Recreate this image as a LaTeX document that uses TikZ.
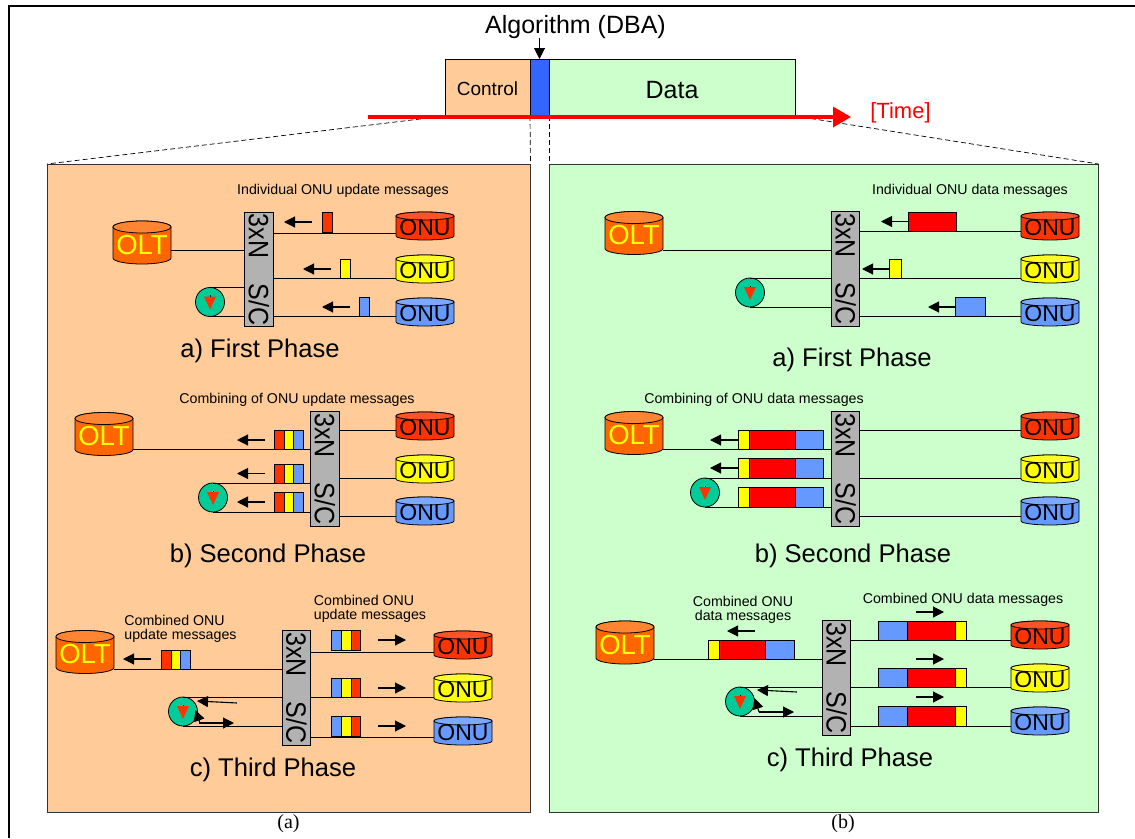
\documentclass[tikz,border=0pt]{standalone}
\usepackage{graphicx}
\usepackage{fontspec}
\setmainfont{Liberation Sans}
\newfontfamily\capfont{Liberation Serif}
\definecolor{ctrlbg}{HTML}{FFCC99}
\definecolor{databg}{HTML}{CCFFCC}
\definecolor{dbablue}{HTML}{3366FF}
\definecolor{oltbody}{HTML}{FF6600}
\definecolor{olttop}{HTML}{FF8533}
\definecolor{mred}{HTML}{FF3300}
\definecolor{mredd}{HTML}{FF0000}
\definecolor{myel}{HTML}{FFFF00}
\definecolor{mblu}{HTML}{6699FF}
\definecolor{swgray}{HTML}{B2B2B2}
\definecolor{loopgreen}{HTML}{00CC99}
\usetikzlibrary{arrows.meta}
\newcommand{\fsz}[1]{\fontsize{#1}{#1}\selectfont}
\newcommand{\lowtxt}[2]{\raisebox{-#1pt}[\height][0pt]{#2}}
% centre x, centre y, half height, cap radius, body colour, cap colour
\newcommand{\drawcan}[6]{
  \filldraw[fill=#5,draw=black,line width=0.8pt] (#1-29,#2-#3+#4) -- (#1-29,#2+#3-#4)
    arc[start angle=180,end angle=360,x radius=29pt,y radius=#4pt] -- (#1+29,#2-#3+#4)
    arc[start angle=0,end angle=180,x radius=29pt,y radius=#4pt] -- cycle;
  \filldraw[fill=#6,draw=black,line width=0.8pt] (#1,#2-#3+#4) ellipse[x radius=29pt,y radius=#4pt];
}
\tikzset{
  oltcan/.style={minimum width=58pt,minimum height=43pt,inner sep=0pt,outer sep=0pt,font=\fsz{27.5},text=myel},
  onucan/.style={minimum width=58pt,minimum height=28pt,inner sep=0pt,outer sep=0pt,font=\fsz{23}},
  swbox/.style={draw=black,line width=0.8pt,fill=swgray,minimum width=28.5pt,minimum height=114.5pt,inner sep=0pt,outer sep=0pt,font=\fsz{25}},
  loopc/.style={circle,draw=black,line width=0.8pt,fill=loopgreen,minimum size=29pt,inner sep=0pt,outer sep=0pt},
  seg/.style={draw=black,line width=0.8pt,anchor=north west,minimum height=19.5pt,inner sep=0pt,outer sep=0pt},
  wire/.style={draw=black,line width=0.9pt},
  flow/.style={-{Triangle[length=11pt,width=11pt]},line width=1.1pt,black},
  panel/.style={draw=black!80,line width=0.8pt,anchor=north west,inner sep=0pt,outer sep=0pt},
  small/.style={font=\fsz{14.2},align=center,inner sep=0pt},
  phase/.style={font=\fsz{25.6},inner sep=0pt},
  cut/.style={draw=black,line width=0.7pt,dash pattern=on 5pt off 3pt},
}
\begin{document}
\begin{tikzpicture}[x=1pt,y=-1pt]
\useasboundingbox (0,0) rectangle (1135,838);
\draw[line width=2pt] (1135,6) -- (8.5,6) -- (8.5,838);

% frame on top
\node[panel,draw=black,fill=ctrlbg,minimum width=85pt,minimum height=57pt,font=\fsz{19}] (ctrl) at (445,59) {\lowtxt{1}{Control}};
\node[panel,draw=black,fill=dbablue,minimum width=19pt,minimum height=57pt] (alg) at (530,59) {};
\node[panel,draw=black,fill=databg,minimum width=246pt,minimum height=57pt,font=\fsz{25}] (data) at (549,59) {\lowtxt{2}{Data}};
\node[font=\fsz{25},inner sep=0pt] (algt) at (575.5,27) {Algorithm (DBA)};
\coordinate (algh) at (539.5,38);
\draw[-{Triangle[length=11pt,width=11pt]},line width=1pt] (algh) -- (alg.north);

\node[panel,fill=ctrlbg,minimum width=483.5pt,minimum height=648pt] (pa) at (47,164) {};
\node[panel,fill=databg,minimum width=549.5pt,minimum height=648pt] (pb) at (549,164) {};
\draw[cut] (ctrl.south west) -- (pa.north west);
\draw[cut] (ctrl.south east) -- (pa.north east);
\draw[cut] (data.south west) -- (pb.north west);
\draw[cut] (data.south east) -- (pb.north east);

\coordinate (ts) at (368,117); \coordinate (te) at (851,117);
\draw[-{Triangle[length=18pt,width=20pt]},red,line width=3.4pt] (ts) -- (te);
\node[font=\fsz{22},text=red,inner sep=0pt] (tm) at (900.5,112.5) {[Time]};

% network parts of each phase
\foreach \n/\x/\y in {a1/142/242.5,a2/104/434,a3/85/652,b1/634/233,b2/634/433,b3/625/642.5}{
  \drawcan{\x}{\y}{21.5}{6}{oltbody}{olttop}
  \node[oltcan] (olt\n) at (\x,\y) {\lowtxt{2}{OLT}};
}
\foreach \n/\x/\y in {a1/259/269.5,a2/325/469,a3/296.5/688,b1/845.5/269,b2/845.5/469,b3/836.5/678}
  \node[swbox] (sw\n) at (\x,\y) {\rotatebox{-90}{\scalebox{1}[1.12]{3xN\quad S/C}}};
\foreach \n/\x/\ya/\yb/\yc in {a1/425/226/269/312,a2/425/426/469/511,a3/463/645/688/731,b1/1050/226/269/312,b2/1050/426/469/511,b3/1040/635/678/721}{
  \drawcan{\x}{\ya}{14}{4}{mred}{mred!85!white}
  \drawcan{\x}{\yb}{14}{4}{myel}{myel!85!white}
  \drawcan{\x}{\yc}{14}{4}{mblu}{mblu!85!white}
  \node[onucan] (onu\n r) at (\x,\ya) {\lowtxt{1}{ONU}};
  \node[onucan] (onu\n y) at (\x,\yb) {\lowtxt{1}{ONU}};
  \node[onucan] (onu\n b) at (\x,\yc) {\lowtxt{1}{ONU}};
}
\foreach \n/\x/\y in {a1/210/302,a2/213/497.5,a3/183/711.5,b1/750/292.5,b2/705/492.5,b3/740/701.5}{
  \node[loopc] (lp\n) at (\x,\y) {};
  \draw[line width=0.6pt] (\x,\y-7) -- (\x,\y-5);
  \fill[mred] (\x-6,\y-5.5) -- (\x+6,\y-5.5) -- (\x,\y+7.5) -- cycle;
  \draw[wire] (lp\n.north) -- (sw\n.west |- lp\n.north);
  \draw[wire] (lp\n.south) -- (sw\n.west |- lp\n.south);
}

% wires
\foreach \n/\yo/\ya/\yb/\yc in {a1/250/233/278/316,a2/449/430/478/516,a3/669/652/697/737,b1/250/231/278/316,b2/449/430/478/516,b3/659/640/687/726}{
  \draw[wire] (olt\n.east |- 0,\yo) -- (sw\n.west |- 0,\yo);
  \draw[wire] (sw\n.east |- 0,\ya) -- (onu\n r.west |- 0,\ya);
  \draw[wire] (sw\n.east |- 0,\yb) -- (onu\n y.west |- 0,\yb);
  \draw[wire] (sw\n.east |- 0,\yc) -- (onu\n b.west |- 0,\yc);
}

% messages: name/colour/left/width/top
\foreach \n/\c/\x/\w/\y in {
  ma1/mred/322/10/212.5, ma2/myel/340/10/259, ma3/mblu/359/10/297,
  mb1/mred/274/10/430, mb2/myel/284/9.5/430, mb3/mblu/293.5/9.5/430,
  mb4/mred/274/10/464, mb5/myel/284/9.5/464, mb6/mblu/293.5/9.5/464,
  mb7/mred/274/10/492.5, mb8/myel/284/9.5/492.5, mb9/mblu/293.5/9.5/492.5,
  mc1/mred/161/10/650, mc2/myel/171/9.5/650, mc3/mblu/180.5/9.5/650,
  mc4/mblu/331/10/630.5, mc5/myel/341/10/630.5, mc6/mred/351/9.5/630.5,
  mc7/mblu/331/10/678, mc8/myel/341/10/678, mc9/mred/351/9.5/678,
  mc10/mblu/331/10/716.5, mc11/myel/341/10/716.5, mc12/mred/351/9.5/716.5,
  na1/mredd/908/48/212, na2/myel/889/12/259, na3/mblu/955/30/297,
  nb1/myel/738/11/430, nb2/mredd/749/46/430, nb3/mblu/795/28/430,
  nb4/myel/738/11/458.5, nb5/mredd/749/46/458.5, nb6/mblu/795/28/458.5,
  nb7/myel/738/11/487.5, nb8/mredd/749/46/487.5, nb9/mblu/795/28/487.5,
  nc1/myel/708/11/640, nc2/mredd/719/46/640, nc3/mblu/765/29/640,
  nc4/mblu/878/29/621, nc5/mredd/907/48/621, nc6/myel/955/11/621,
  nc7/mblu/878/29/668, nc8/mredd/907/48/668, nc9/myel/955/11/668,
  nc10/mblu/878/29/706.5, nc11/mredd/907/48/706.5, nc12/myel/955/11/706.5}
  \node[seg,fill=\c,minimum width=\w pt] (\n) at (\x,\y) {};

% arrows beside the messages
\foreach \i/\xa/\ya/\xb/\yb in {
  1/312/222/284/222, 2/331/269/303/269, 3/350/307/322/307,
  4/265/440/237/440, 5/265/473.5/237/473.5, 6/265/502/237/502,
  7/151/659/123/659, 8/378/640/406/640, 9/378/688/406/688, 10/378/726/406/726,
  11/237/703/197/701, 12/199/723/234/723, 13/200/723/195.5/710,
  14/908/221.5/881/221.5, 15/889/269/862/269, 16/955/307/928/307,
  17/738/440/710/440, 18/738/468/710/468,
  19/755/631/727/631, 20/916/612/944/612, 21/916/659/944/659, 22/916/697/944/697,
  23/797/692/757/690, 24/759/712/794/712, 25/759/712/754.5/698}{
  \coordinate (ft\i) at (\xa,\ya); \coordinate (fh\i) at (\xb,\yb);
  \draw[flow] (ft\i) -- (fh\i);
}

% labels
\node[small] (la1) at (343,190.5) {Individual ONU update messages};
\node[small] (la2) at (297,399.5) {Combining of ONU update messages};
\node[small,align=left] (la3) at (180.5,628.5) {Combined ONU\\update messages};
\node[small,align=left] (la4) at (370,608.5) {Combined ONU\\update messages};
\node[small] (lb1) at (970,190.5) {Individual ONU data messages};
\node[small] (lb2) at (754,399.5) {Combining of ONU data messages};
\node[small] (lb3) at (743,609.5) {Combined ONU\\data messages};
\node[small] (lb4) at (963,599.5) {Combined ONU data messages};
\node[phase] (pha1) at (260,350.5) {a) First Phase};
\node[phase] (pha2) at (268,555.5) {b) Second Phase};
\node[phase] (pha3) at (273,769.5) {c) Third Phase};
\node[phase] (phb1) at (852,359.5) {a) First Phase};
\node[phase] (phb2) at (853,555.5) {b) Second Phase};
\node[phase] (phb3) at (850,759.5) {c) Third Phase};
\node[font=\capfont\fsz{20},inner sep=0pt] (capa) at (288.5,824) {(a)};
\node[font=\capfont\fsz{20},inner sep=0pt] (capb) at (843,824) {(b)};
\end{tikzpicture}
\end{document}
